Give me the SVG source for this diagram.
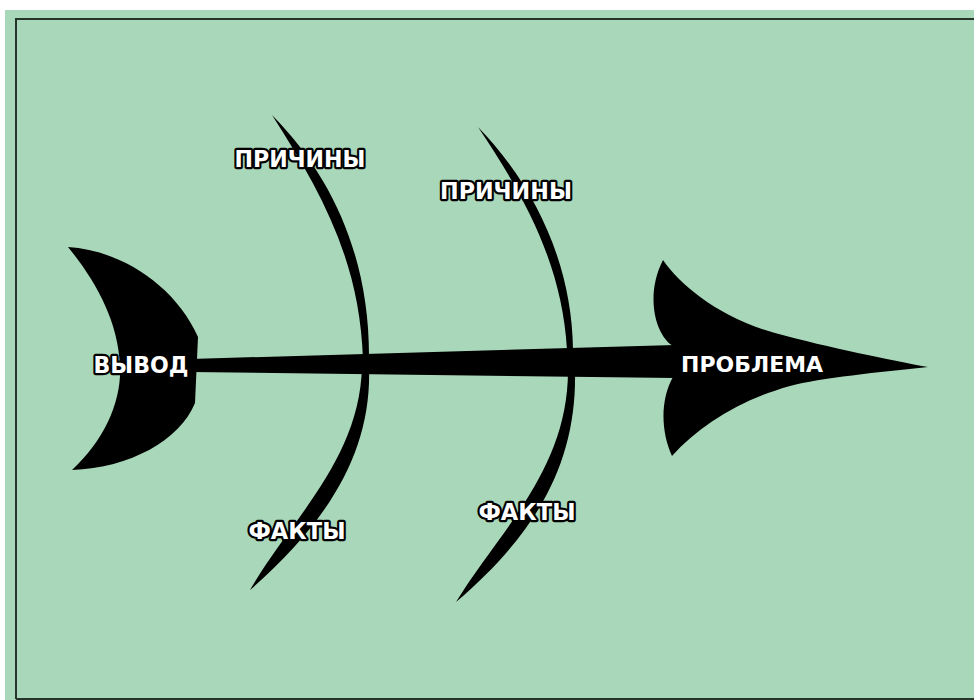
<svg xmlns="http://www.w3.org/2000/svg" width="974" height="700" viewBox="0 0 974 700">
<style>
.bg{fill:#a9d7b9}
.frame{fill:none;stroke:#26352a;stroke-width:2}
.shape{fill:#000}
.lbl{font-family:"DejaVu Sans","Liberation Sans",sans-serif;font-weight:bold;fill:#fff;stroke:#000;stroke-width:4.5;stroke-linejoin:round;paint-order:stroke;text-anchor:middle}
</style>
<rect x="0" y="0" width="974" height="700" fill="#fff"/>
<rect class="bg" x="5" y="10" width="969" height="690"/>
<path class="frame" d="M16 699 L16 19 L974 19"/>
<path class="frame" d="M16 699 L974 699"/>
<g id="connectors">
  <path id="spine" class="shape" d="M190 359 L675 345 L675 378 L190 372 Z"/>
  <path id="rib-upper-1" class="shape" d="M272 115 C320 190 360 260 363 360 L369 360 C370 260 334 178 272 115 Z"/>
  <path id="rib-lower-1" class="shape" d="M362 366 L369 366 C372 450 330 520 250 590 C290 520 360 460 362 366 Z"/>
  <path id="rib-upper-2" class="shape" d="M478 127 C520 190 562 260 567 350 L573 350 C572 260 532 183 478 127 Z"/>
  <path id="rib-lower-2" class="shape" d="M568 370 L575 370 C577 460 540 530 456 602 C500 530 568 470 568 370 Z"/>
</g>
<g id="node-vyvod">
  <path class="shape" d="M68 247 C120 250 175 285 198 337 L195 403 C180 440 130 468 72 470 C105 440 122 400 120 365 C118 320 95 280 68 247 Z"/>
  <text class="lbl" x="141" y="373" font-size="23" textLength="95" lengthAdjust="spacingAndGlyphs">ВЫВОД</text>
</g>
<g id="node-problema">
  <path class="shape" d="M673 346 C655 335 645 295 663 260 C680 285 720 318 775 333 C830 348 890 360 928 367 C880 372 820 378 790 386 C740 400 700 425 672 456 C660 430 661 398 673 377 Z"/>
  <text class="lbl" x="752" y="372" font-size="22" textLength="142" lengthAdjust="spacingAndGlyphs">ПРОБЛЕМА</text>
</g>
<g id="node-prichiny-1">
  <text class="lbl" x="300" y="167" font-size="23" textLength="131" lengthAdjust="spacingAndGlyphs">ПРИЧИНЫ</text>
</g>
<g id="node-prichiny-2">
  <text class="lbl" x="506" y="199" font-size="23" textLength="132" lengthAdjust="spacingAndGlyphs">ПРИЧИНЫ</text>
</g>
<g id="node-fakty-1">
  <text class="lbl" x="297" y="539" font-size="23" textLength="97" lengthAdjust="spacingAndGlyphs">ФАКТЫ</text>
</g>
<g id="node-fakty-2">
  <text class="lbl" x="527" y="520" font-size="23" textLength="97" lengthAdjust="spacingAndGlyphs">ФАКТЫ</text>
</g>
</svg>
